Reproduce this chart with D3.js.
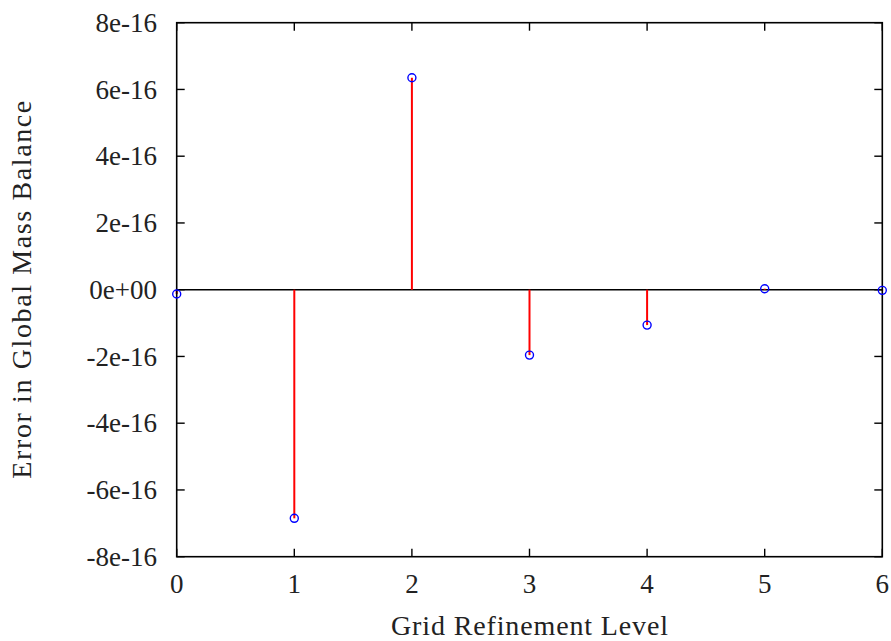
<!DOCTYPE html>
<html><head><meta charset="utf-8">
<script src="https://cdn.jsdelivr.net/npm/d3@7"></script>
<style>body{margin:0;background:#fff}svg{display:block}text{font-family:"Liberation Serif","Times New Roman",serif;fill:#222}</style>
</head><body><svg id="c" width="891" height="641"></svg>
<script>
const levels = [0, 1, 2, 3, 4, 5, 6];
const errors = [-1.3e-17, -6.85e-16, 6.35e-16, -1.96e-16, -1.06e-16, 3e-18, -2e-18];
const xTicks = [0, 1, 2, 3, 4, 5, 6];
const yTicks = [-8e-16, -6e-16, -4e-16, -2e-16, 0, 2e-16, 4e-16, 6e-16, 8e-16];
const yTickLabels = ["-8e-16","-6e-16","-4e-16","-2e-16","0e+00","2e-16","4e-16","6e-16","8e-16"];
const xTitle = "Grid Refinement Level";
const yTitle = "Error in Global Mass Balance";

const L = 176.7, R = 882.3, T = 22.7, B = 556.7;
const svg = d3.select("#c");
const x = d3.scaleLinear().domain([0, 6]).range([L, R]);
const y = d3.scaleLinear().domain([-8e-16, 8e-16]).range([B, T]);
const tl = 8;
const fs = 27;

// zero axis
svg.append("line").attr("x1", L).attr("x2", R).attr("y1", y(0)).attr("y2", y(0))
  .attr("stroke", "#000").attr("stroke-width", 1.4);

// impulses
svg.selectAll(".imp").data(levels).enter().append("line")
  .attr("x1", d => x(d)).attr("x2", d => x(d))
  .attr("y1", y(0)).attr("y2", (d, i) => y(errors[i]))
  .attr("stroke", "#ff0000").attr("stroke-width", 2);

// ticks
const g = svg.append("g").attr("stroke", "#000").attr("stroke-width", 1.4);
xTicks.forEach(t => {
  g.append("line").attr("x1", x(t)).attr("x2", x(t)).attr("y1", B).attr("y2", B - tl);
  g.append("line").attr("x1", x(t)).attr("x2", x(t)).attr("y1", T).attr("y2", T + tl);
});
yTicks.forEach(t => {
  g.append("line").attr("x1", L).attr("x2", L + tl).attr("y1", y(t)).attr("y2", y(t));
  g.append("line").attr("x1", R).attr("x2", R - tl).attr("y1", y(t)).attr("y2", y(t));
});
// border
svg.append("rect").attr("x", L).attr("y", T).attr("width", R - L).attr("height", B - T)
  .attr("fill", "none").attr("stroke", "#000").attr("stroke-width", 1.6);

// points
svg.selectAll(".pt").data(levels).enter().append("circle")
  .attr("cx", d => x(d)).attr("cy", (d, i) => y(errors[i])).attr("r", 4)
  .attr("fill", "none").attr("stroke", "#0000ff").attr("stroke-width", 1.4);

// tick labels
svg.selectAll(".xl").data(xTicks).enter().append("text")
  .attr("x", d => x(d)).attr("y", B + 36).attr("text-anchor", "middle")
  .attr("font-size", fs).text(d => d);
svg.selectAll(".yl").data(yTicks).enter().append("text")
  .attr("x", 157).attr("y", d => y(d)).attr("dy", "0.34em").attr("text-anchor", "end")
  .attr("font-size", fs).text((d, i) => yTickLabels[i]);

// titles
svg.append("text").attr("x", (L + R) / 2).attr("y", 635).attr("text-anchor", "middle")
  .attr("font-size", 28).attr("textLength", 277).attr("lengthAdjust", "spacing").text(xTitle);
svg.append("text").attr("transform", `translate(31,${(T + B) / 2}) rotate(-90)`)
  .attr("text-anchor", "middle").attr("font-size", 28)
  .attr("textLength", 378).attr("lengthAdjust", "spacing").text(yTitle);
</script></body></html>
